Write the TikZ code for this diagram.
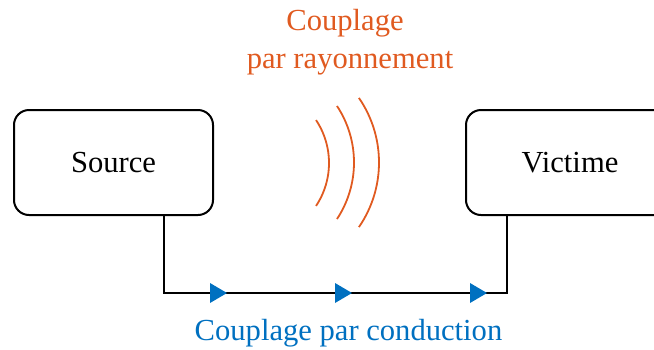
\documentclass[tikz,border=0pt]{standalone}
\usepackage{fontspec}
\setmainfont{Liberation Serif}
\definecolor{radorange}{RGB}{224,90,32}
\definecolor{condblue}{RGB}{0,112,192}
\begin{document}
\begin{tikzpicture}[x=0.5pt,y=-0.5pt,
  box/.style={draw,line width=1pt,rounded corners=7.5pt,minimum width=99.5pt,minimum height=52.5pt,inner sep=0pt,font=\fontsize{15.3}{18}\selectfont},
  wire/.style={line width=1.2pt},
  wave/.style={draw=radorange,line width=0.9pt},
  tri/.style={fill=condblue},
  lbl/.style={font=\fontsize{15.3}{19}\selectfont,inner sep=0pt,align=center}]
\clip (0,0) rectangle (654,349);
\node[box] (src) at (113.5,162.5) {Source};
\node[box,minimum width=104pt] (vic) at (570,162.5) {Victime};
\coordinate (c1) at (164,293);
\coordinate (c2) at (507,293);
\draw[wire] (src.south -| c1) -- (c1) -- (c2) -- (vic.south -| c2);
\fill[tri] (210,283) -- (227,293) -- (210,303) -- cycle;
\fill[tri] (335,283) -- (352,293) -- (335,303) -- cycle;
\fill[tri] (470,283) -- (487,293) -- (470,303) -- cycle;
\draw[wave] plot[domain=-33.6:33.6,samples=40,smooth] ({251.4+77.6*cos(\x)},{163+77.6*sin(\x)});
\draw[wave] plot[domain=-33.5:33.5,samples=40,smooth] ({251.6+102.4*cos(\x)},{162.5+102.4*sin(\x)});
\draw[wave] plot[domain=-34.5:34.5,samples=40,smooth] ({265+114*cos(\x)},{162.5+114*sin(\x)});
\node[lbl,text=radorange,anchor=base] (t1) at (345,30) {Couplage};
\node[lbl,text=radorange,anchor=base] (t2) at (350,68) {par rayonnement};
\node[lbl,text=condblue,anchor=base] (t3) at (348.5,340) {Couplage par conduction};
\end{tikzpicture}
\end{document}
